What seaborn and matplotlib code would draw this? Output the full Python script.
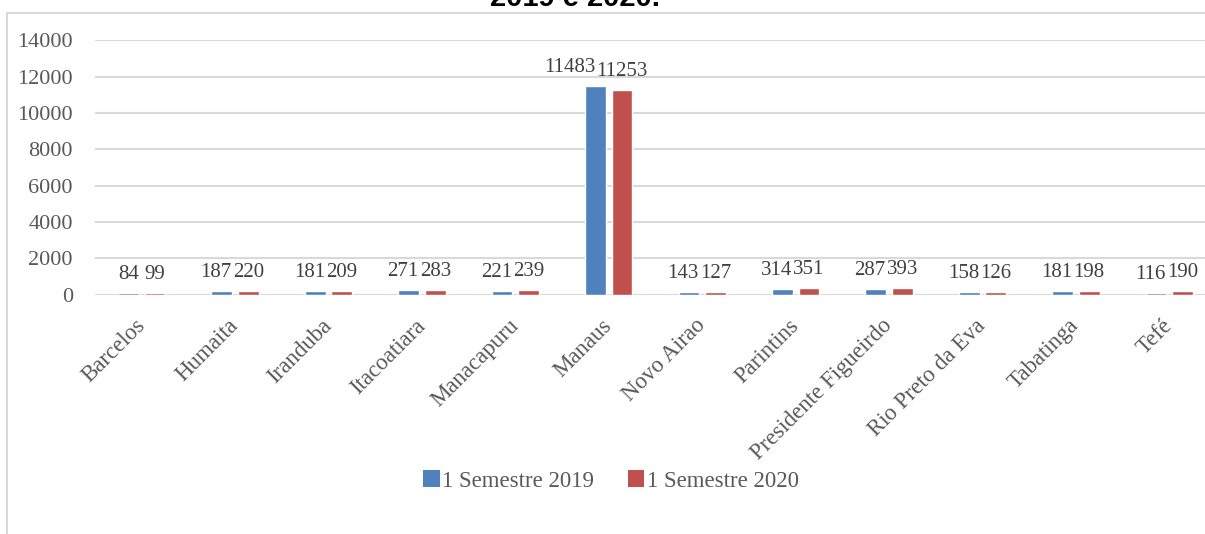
import matplotlib
matplotlib.use("Agg")
import matplotlib.pyplot as plt
import seaborn as sns
import pandas as pd
from matplotlib.patches import Rectangle, Patch
from matplotlib.transforms import offset_copy

cities = ["Barcelos", "Humaita", "Iranduba", "Itacoatiara", "Manacapuru", "Manaus",
          "Novo Airao", "Parintins", "Presidente Figueirdo", "Rio Preto da Eva",
          "Tabatinga", "Tefé"]
sem2019 = [84, 187, 181, 271, 221, 11483, 143, 314, 287, 158, 181, 116]
sem2020 = [99, 220, 209, 283, 239, 11253, 127, 351, 393, 126, 198, 190]
series = ["1 Semestre 2019", "1 Semestre 2020"]
colors = ["#4F81BD", "#C0504D"]
yticks = [0, 2000, 4000, 6000, 8000, 10000, 12000, 14000]

df = pd.DataFrame({
    "city": cities * 2,
    "value": sem2019 + sem2020,
    "series": [series[0]] * len(cities) + [series[1]] * len(cities),
})

sns.set_theme(style="white")
plt.rcParams["font.family"] = ["Liberation Serif", "DejaVu Serif"]

W, H = 1205, 534
fig = plt.figure(figsize=(W / 100, H / 100), dpi=100)
left, right, top, bottom = 95, 1216, 40.3, 294.7
ax = fig.add_axes([left / W, 1 - bottom / H, (right - left) / W, (bottom - top) / H])

sns.barplot(data=df, x="city", y="value", hue="series", palette=colors,
            width=0.57, gap=0.22, ax=ax, legend=False, saturation=1, errorbar=None)

ax.set_ylim(0, 14000)
ax.set_xlim(-0.5, len(cities) - 0.5)
ax.set_yticks(yticks)
ax.set_yticklabels([str(t) for t in yticks], fontsize=16, color="#595959")
ax.yaxis.grid(True, color="#D9D9D9", linewidth=1.5)
ax.set_axisbelow(True)
for s in ax.spines.values():
    s.set_visible(False)
ax.tick_params(axis="y", length=0, pad=16)
ax.tick_params(axis="x", length=0, pad=20)
ax.set_xticks(range(len(cities)))
ax.set_xticklabels(cities, rotation=45, ha="right", va="center", rotation_mode="anchor",
                   fontsize=16.5, color="#595959")
ax.set_xlabel("")
ax.set_ylabel("")

# value labels, placed like the spreadsheet does: left label nudged so it does not overlap
blue_bars, red_bars = ax.containers[0], ax.containers[1]
pairs = []
for bb, rb in zip(blue_bars, red_bars):
    texts = []
    for bar in (bb, rb):
        x = bar.get_x() + bar.get_width() / 2
        y = bar.get_height()
        t = ax.text(x, y, f"{int(round(y))}", ha="center", va="bottom", fontsize=15,
                    color="#404040",
                    transform=offset_copy(ax.transData, fig=fig, x=0, y=9, units="dots"))
        texts.append(t)
    pairs.append(texts)

fig.canvas.draw()
renderer = fig.canvas.get_renderer()
for tb, tr in pairs:
    b1 = tb.get_window_extent(renderer)
    b2 = tr.get_window_extent(renderer)
    overlap = b1.x1 + 1 - b2.x0
    if overlap > 0:
        tb.set_transform(offset_copy(ax.transData, fig=fig, x=-overlap, y=9, units="dots"))

handles = [Patch(facecolor=c, edgecolor="none") for c in colors]
fig.legend(handles, series, loc="center", bbox_to_anchor=(611 / W, 1 - 481 / H),
           ncol=2, frameon=False, fontsize=16.5, handlelength=0.7, handleheight=0.7,
           handletextpad=0.1, columnspacing=1.5, labelcolor="#595959")

# outer chart border
fig.patches.append(Rectangle((7.5 / W, -0.1), 1.2, 1 - 12.7 / H + 0.1,
                             transform=fig.transFigure, fill=False,
                             edgecolor="#D9D9D9", linewidth=1.5))

fig.text(575 / W, 1 - 6 / H, "2019 e 2020.", ha="center", va="baseline",
         fontsize=21, fontweight="bold", family=["Liberation Sans", "DejaVu Sans"],
         color="black")

fig.savefig("out.png", dpi=100)
